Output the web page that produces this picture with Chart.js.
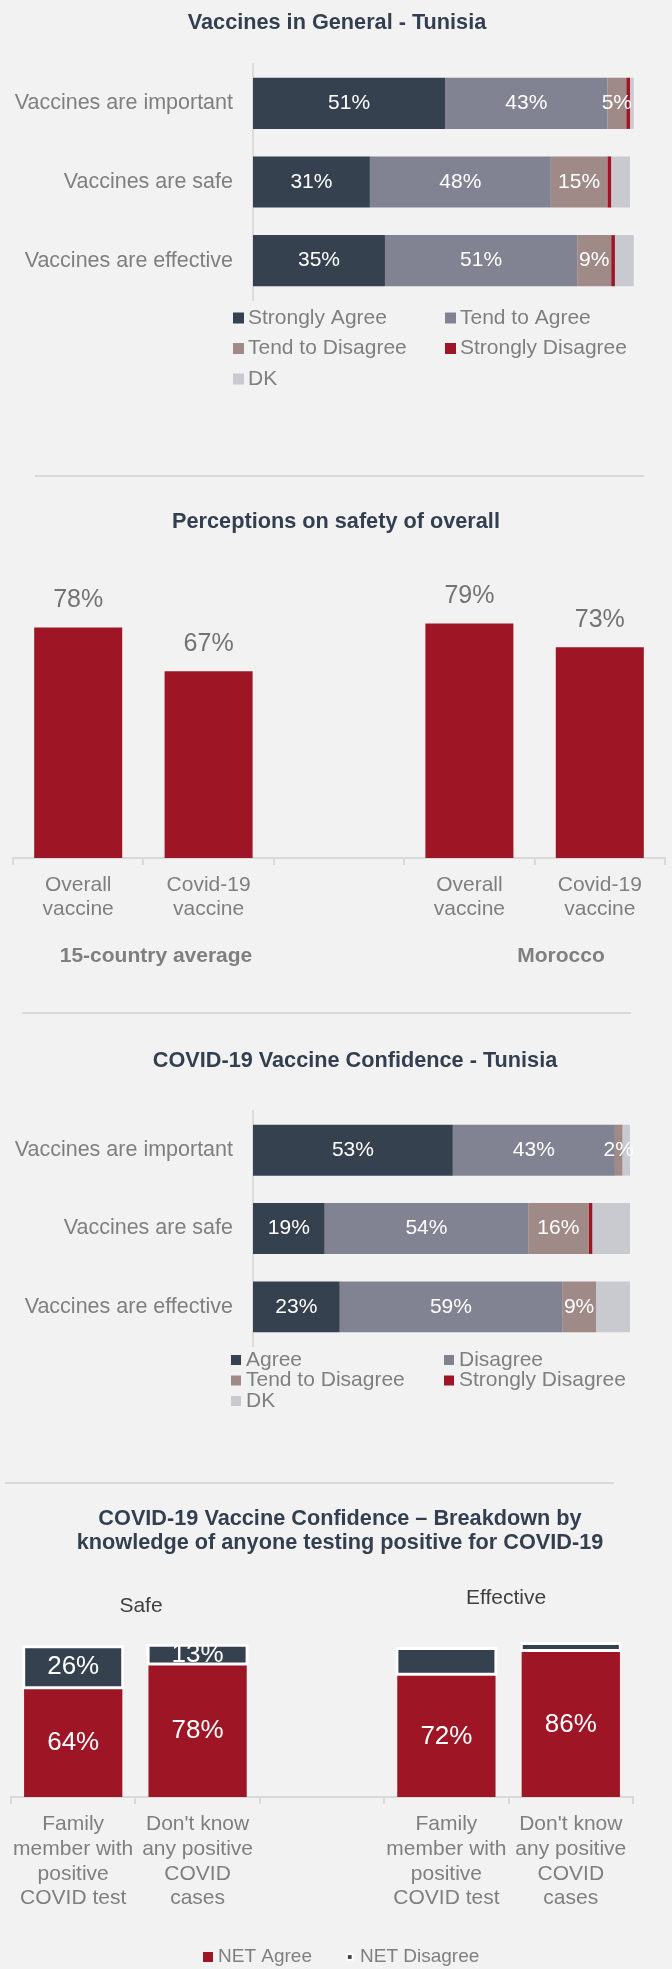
<!DOCTYPE html>
<html>
<head>
<meta charset="utf-8">
<title>Vaccine confidence - Tunisia</title>
<script src="https://cdn.jsdelivr.net/npm/chart.js@4.4.1/dist/chart.umd.min.js"></script>
<style>
  html, body { margin: 0; padding: 0; background: #f2f2f2; }
  #page { position: relative; width: 672px; height: 1969px; background: #f2f2f2; overflow: hidden; }
  .chart-box { position: absolute; left: 0; width: 672px; }
  .chart-box canvas { display: block; }
  .sep { position: absolute; height: 2px; background: #d9d9d9; }
</style>
</head>
<body>
<div id="page">
  <div class="chart-box" style="top:0"><canvas id="generalChart" width="672" height="440"></canvas></div>
  <div class="sep" style="top:475px;left:35px;width:609px"></div>
  <div class="chart-box" style="top:480px"><canvas id="safetyChart" width="672" height="530"></canvas></div>
  <div class="sep" style="top:1012px;left:22px;width:609px"></div>
  <div class="chart-box" style="top:1020px"><canvas id="covidChart" width="672" height="400"></canvas></div>
  <div class="sep" style="top:1482px;left:5px;width:609px"></div>
  <div class="chart-box" style="top:1490px"><canvas id="breakdownChart" width="672" height="479"></canvas></div>
</div>

<script>
// ---- data: Vaccines in General - Tunisia ----
const generalCategories = ['Vaccines are important', 'Vaccines are safe', 'Vaccines are effective'];
const generalStronglyAgree = [51, 31, 35];
const generalTendAgree = [43, 48, 51];
const generalTendDisagree = [5, 15, 9];
const generalStronglyDisagree = [1, 1, 1];
const generalDK = [1, 5, 5];

// ---- data: Perceptions on safety of overall ----
const safetyCategories = [['Overall', 'vaccine'], ['Covid-19', 'vaccine'], '', ['Overall', 'vaccine'], ['Covid-19', 'vaccine']];
const safetyValues = [78, 67, null, 79, 73];
const safetyGroups = ['15-country average', 'Morocco'];

// ---- data: COVID-19 Vaccine Confidence - Tunisia ----
const covidCategories = ['Vaccines are important', 'Vaccines are safe', 'Vaccines are effective'];
const covidAgree = [53, 19, 23];
const covidDisagree = [43, 54, 59];
const covidTendDisagree = [2, 16, 9];
const covidStronglyDisagree = [0, 1, 0];
const covidDK = [2, 10, 9];

// ---- data: breakdown by knowledge of anyone testing positive ----
const breakdownCategories = [
  ['Family', 'member with', 'positive', 'COVID test'],
  ["Don't know", 'any positive', 'COVID', 'cases'],
  '',
  ['Family', 'member with', 'positive', 'COVID test'],
  ["Don't know", 'any positive', 'COVID', 'cases']
];
const netAgree = [64, 78, null, 72, 86];
const netDisagree = [26, 13, null, 17, 6];
const breakdownPanels = ['Safe', 'Effective'];

// colours
const DARK = '#36414f';
const GREYBLUE = '#818393';
const MAUVE = '#9f8a88';
const RED = '#9e1626';
const LIGHT = '#c9cacf';
const TEXT_GREY = '#7f7f7f';
const TITLE = '#333f50';
const TITLE_FONT = 'bold 21.7px "Liberation Sans", Arial';

Chart.defaults.font.family = '"Liberation Sans", Arial, sans-serif';
Chart.defaults.animation = false;

// free text (titles, group captions)
const extraText = {
  id: 'extraText',
  afterDraw(chart, args, opts) {
    const ctx = chart.ctx;
    (opts.items || []).forEach(t => {
      ctx.save();
      ctx.font = t.font;
      ctx.fillStyle = t.color;
      ctx.textAlign = t.align || 'center';
      ctx.textBaseline = 'middle';
      ctx.fillText(t.text, t.x, t.y);
      ctx.restore();
    });
  }
};

// legend laid out in fixed columns
const gridLegend = {
  id: 'gridLegend',
  afterDraw(chart, args, opts) {
    if (!opts.columns) return;
    const ctx = chart.ctx;
    const n = opts.columns.length;
    chart.data.datasets.forEach((ds, i) => {
      const x = opts.columns[i % n];
      const y = opts.top + Math.floor(i / n) * opts.rowHeight;
      ctx.save();
      if (ds.borderWidth) {
        const s = opts.box * 0.75;
        ctx.fillStyle = ds.borderColor;
        ctx.fillRect(x + 1, y - s / 2, s, s);
        ctx.fillStyle = ds.backgroundColor;
        ctx.fillRect(x + 1 + s * 0.25, y - s * 0.25, s * 0.5, s * 0.5);
      } else {
        ctx.fillStyle = ds.backgroundColor;
        ctx.fillRect(x, y - opts.box / 2, opts.box, opts.box);
      }
      ctx.fillStyle = opts.color;
      ctx.font = opts.font;
      ctx.textAlign = 'left';
      ctx.textBaseline = 'middle';
      ctx.fillText(ds.label, x + opts.box + opts.gap, y);
      ctx.restore();
    });
  }
};

// value labels on / above bars
const barLabels = {
  id: 'barLabels',
  afterDatasetsDraw(chart, args, opts) {
    const ctx = chart.ctx;
    const horizontal = chart.options.indexAxis === 'y';
    chart.data.datasets.forEach((ds, di) => {
      const cfg = (opts.datasets || [])[di];
      if (!cfg) return;
      chart.getDatasetMeta(di).data.forEach((bar, i) => {
        const v = ds.data[i];
        if (v == null || v === 0) return;
        if (cfg.skip && cfg.skip.includes(i)) return;
        const p = bar.getProps(['x', 'y', 'base'], true);
        let x, y;
        if (horizontal) {
          x = (p.x + p.base) / 2; y = p.y;
        } else if (cfg.above) {
          x = p.x; y = p.y - cfg.above;
        } else {
          x = p.x; y = (p.y + p.base) / 2;
        }
        ctx.save();
        ctx.font = cfg.font;
        ctx.fillStyle = cfg.color;
        ctx.textAlign = 'center';
        ctx.textBaseline = 'middle';
        ctx.fillText(v + '%', x, y);
        ctx.restore();
      });
    });
  }
};

const commonPlugins = { legend: { display: false }, tooltip: { enabled: false }, title: { display: false } };

function stackedRowChart(id, categories, series, titleText, titleX, titleY, areaTop, areaBottom, height, legendOpts) {
  const labelFont = '21px "Liberation Sans", Arial';
  return new Chart(document.getElementById(id), {
    type: 'bar',
    data: {
      labels: categories,
      datasets: series.map(s => ({
        label: s.label, data: s.data, backgroundColor: s.color,
        categoryPercentage: 1, barPercentage: 0.65, clip: false
      }))
    },
    options: {
      indexAxis: 'y',
      responsive: false,
      layout: { padding: { top: areaTop, bottom: height - areaBottom, left: 0, right: 42 } },
      scales: {
        x: { stacked: true, display: false, min: 0, max: 100 },
        y: {
          stacked: true,
          grid: { display: false, drawTicks: false },
          border: { display: true, color: '#dcdcdc', width: 2 },
          ticks: { color: TEXT_GREY, font: { size: 21.5 }, padding: 20 },
          afterFit(scale) { scale.width = 253; }
        }
      },
      plugins: {
        ...commonPlugins,
        extraText: { items: [{ text: titleText, x: titleX, y: titleY, font: TITLE_FONT, color: TITLE }] },
        gridLegend: legendOpts,
        barLabels: {
          datasets: [
            { font: labelFont, color: '#ffffff' },
            { font: labelFont, color: '#ffffff' },
            { font: labelFont, color: '#ffffff' }
          ]
        }
      }
    },
    plugins: [extraText, gridLegend, barLabels]
  });
}

// Chart 1: Vaccines in General - Tunisia
stackedRowChart('generalChart', generalCategories, [
  { label: 'Strongly Agree', data: generalStronglyAgree, color: DARK },
  { label: 'Tend to Agree', data: generalTendAgree, color: GREYBLUE },
  { label: 'Tend to Disagree', data: generalTendDisagree, color: MAUVE },
  { label: 'Strongly Disagree', data: generalStronglyDisagree, color: RED },
  { label: 'DK', data: generalDK, color: LIGHT }
], 'Vaccines in General - Tunisia', 337, 23, 64, 300, 440,
  { columns: [233, 445], top: 318, rowHeight: 30.5, box: 11, gap: 4, font: '21px "Liberation Sans", Arial', color: TEXT_GREY });

// Chart 2: Perceptions on safety of overall
new Chart(document.getElementById('safetyChart'), {
  type: 'bar',
  data: {
    labels: safetyCategories,
    datasets: [{ label: 'Safe', data: safetyValues, backgroundColor: RED, categoryPercentage: 1, barPercentage: 0.675 }]
  },
  options: {
    responsive: false,
    layout: { padding: { top: 60, bottom: 0, left: 13, right: 7 } },
    scales: {
      y: { display: false, min: 20, max: 100 },
      x: {
        grid: { offset: true, drawOnChartArea: false, tickLength: 7, color: '#d9d9d9', lineWidth: 2 },
        border: { display: true, color: '#d9d9d9', width: 2 },
        ticks: { color: TEXT_GREY, font: { size: 21, lineHeight: 1.143 }, padding: 8, maxRotation: 0, autoSkip: false },
        afterFit(scale) { scale.height = 152; }
      }
    },
    plugins: {
      ...commonPlugins,
      extraText: {
        items: [
          { text: 'Perceptions on safety of overall', x: 336, y: 42, font: TITLE_FONT, color: TITLE },
          { text: safetyGroups[0], x: 156, y: 476, font: 'bold 21px "Liberation Sans", Arial', color: TEXT_GREY },
          { text: safetyGroups[1], x: 561, y: 476, font: 'bold 21px "Liberation Sans", Arial', color: TEXT_GREY }
        ]
      },
      barLabels: { datasets: [{ font: '25px "Liberation Sans", Arial', color: '#737373', above: 27 }] }
    }
  },
  plugins: [extraText, barLabels]
});

// Chart 3: COVID-19 Vaccine Confidence - Tunisia
stackedRowChart('covidChart', covidCategories, [
  { label: 'Agree', data: covidAgree, color: DARK },
  { label: 'Disagree', data: covidDisagree, color: GREYBLUE },
  { label: 'Tend to Disagree', data: covidTendDisagree, color: MAUVE },
  { label: 'Strongly Disagree', data: covidStronglyDisagree, color: RED },
  { label: 'DK', data: covidDK, color: LIGHT }
], 'COVID-19 Vaccine Confidence - Tunisia', 355, 41, 91, 326, 400,
  { columns: [231, 444], top: 340, rowHeight: 20.5, box: 10, gap: 5, font: '21px "Liberation Sans", Arial', color: TEXT_GREY });

// Chart 4: breakdown by knowledge of anyone testing positive
new Chart(document.getElementById('breakdownChart'), {
  type: 'bar',
  data: {
    labels: breakdownCategories,
    datasets: [
      { label: 'NET Agree', data: netAgree, backgroundColor: RED, categoryPercentage: 1, barPercentage: 0.79 },
      { label: 'NET Disagree', data: netDisagree, backgroundColor: DARK, borderColor: '#ffffff', borderWidth: 3,
        borderSkipped: false, categoryPercentage: 1, barPercentage: 0.82 }
    ]
  },
  options: {
    responsive: false,
    layout: { padding: { top: 138.5, bottom: 0, left: 11, right: 39 } },
    scales: {
      y: { display: false, stacked: true, min: 0, max: 100 },
      x: {
        stacked: true,
        grid: { offset: true, drawOnChartArea: false, tickLength: 7, color: '#d9d9d9', lineWidth: 2 },
        border: { display: true, color: '#d9d9d9', width: 2 },
        ticks: { color: TEXT_GREY, font: { size: 21, lineHeight: 1.176 }, padding: 8, maxRotation: 0, autoSkip: false },
        afterFit(scale) { scale.height = 172; }
      }
    },
    plugins: {
      ...commonPlugins,
      extraText: {
        items: [
          { text: 'COVID-19 Vaccine Confidence \u2013 Breakdown by', x: 340, y: 29, font: TITLE_FONT, color: TITLE },
          { text: 'knowledge of anyone testing positive for COVID-19', x: 340, y: 53, font: TITLE_FONT, color: TITLE },
          { text: breakdownPanels[0], x: 141, y: 116, font: '21px "Liberation Sans", Arial', color: '#404040' },
          { text: breakdownPanels[1], x: 506, y: 108, font: '21px "Liberation Sans", Arial', color: '#404040' }
        ]
      },
      gridLegend: { columns: [203, 345], top: 467, rowHeight: 0, box: 10, gap: 5, font: '19px "Liberation Sans", Arial', color: TEXT_GREY },
      barLabels: {
        datasets: [
          { font: '26px "Liberation Sans", Arial', color: '#ffffff' },
          { font: '26px "Liberation Sans", Arial', color: '#ffffff', skip: [3, 4] }
        ]
      }
    }
  },
  plugins: [extraText, gridLegend, barLabels]
});
</script>
</body>
</html>
